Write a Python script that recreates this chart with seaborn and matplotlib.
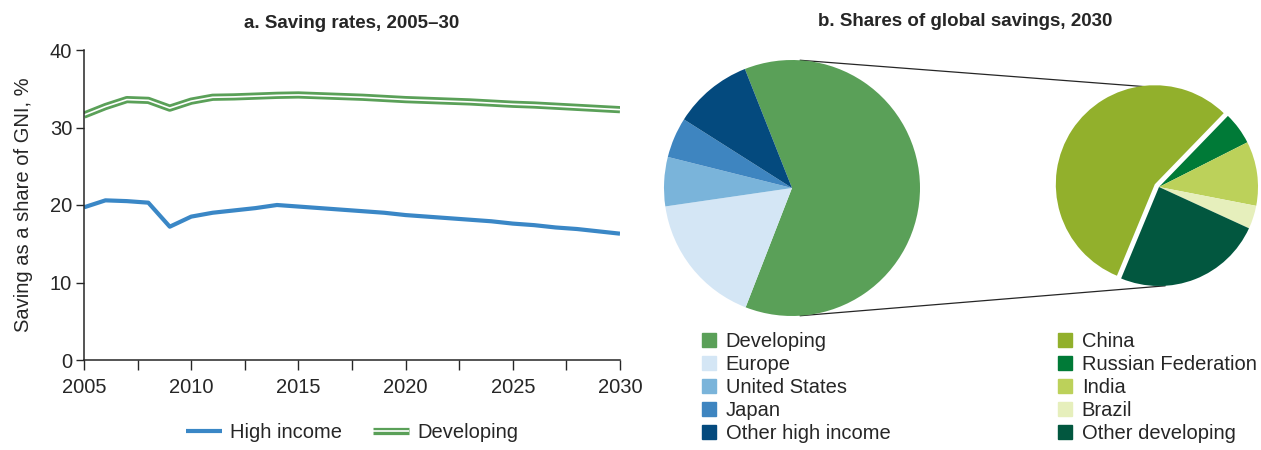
import numpy as np
import pandas as pd
import seaborn as sns
import matplotlib.pyplot as plt
import matplotlib.patheffects as pe
from matplotlib.patches import Patch

# panel a: saving rates, % of GNI
years = list(range(2005, 2031))
high_income = [19.7, 20.6, 20.5, 20.3, 17.2, 18.5, 19.0, 19.3, 19.6, 20.0, 19.8, 19.6, 19.4,
               19.2, 19.0, 18.7, 18.5, 18.3, 18.1, 17.9, 17.6, 17.4, 17.1, 16.9, 16.6, 16.3]
developing = [31.6, 32.7, 33.6, 33.5, 32.5, 33.4, 33.9, 33.95, 34.05, 34.15, 34.2, 34.1, 34.0,
              33.9, 33.75, 33.6, 33.5, 33.4, 33.3, 33.15, 33.0, 32.9, 32.75, 32.6, 32.45, 32.3]

# panel b: shares of global savings, 2030
world_labels = ['Developing', 'Europe', 'United States', 'Japan', 'Other high income']
world_shares = [61.9, 16.8, 6.2, 5.1, 10.0]
world_colors = ['#5aa058', '#d4e6f5', '#7ab4da', '#3e85c0', '#044a7e']

dev_labels = ['China', 'Russian Federation', 'India', 'Brazil', 'Other developing']
dev_shares = [56.0, 5.3, 10.5, 3.8, 24.4]
dev_colors = ['#92b02c', '#007a37', '#bcd15a', '#e6efbc', '#02573f']

BLUE = '#3a87c6'
GREEN = '#5aa058'
INK = '#262626'

sns.set_theme(style='ticks')
plt.rcParams['font.family'] = ['Liberation Sans', 'DejaVu Sans']
plt.rcParams['font.size'] = 14

W, H = 1261, 450
fig = plt.figure(figsize=(W / 100, H / 100), dpi=100)

# ---- line chart
ax = fig.add_axes([84 / W, 90 / H, 536 / W, 310 / H])
df = pd.DataFrame({'year': years, 'High income': high_income, 'Developing': developing})
sns.lineplot(data=df, x='year', y='High income', color=BLUE, lw=3, ax=ax,
             label='High income', solid_capstyle='butt', solid_joinstyle='round')
sns.lineplot(data=df, x='year', y='Developing', color='white', lw=1.2, ax=ax,
             label='Developing', solid_capstyle='butt', solid_joinstyle='round')
ax.lines[-1].set_path_effects([pe.Stroke(linewidth=5.2, foreground=GREEN), pe.Normal()])

ax.set_xlim(2005, 2030)
ax.set_ylim(0, 40)
ax.set_yticks([0, 10, 20, 30, 40])
xt = np.arange(2005, 2030.1, 2.5)
ax.set_xticks(xt)
ax.set_xticklabels([str(int(t)) if t % 5 == 0 else '' for t in xt])
ax.set_xlabel('')
ax.set_ylabel('Saving as a share of GNI, %', fontsize=14.5, color=INK, labelpad=12)
ax.tick_params(axis='x', length=7, width=1, color=INK, labelcolor=INK, labelsize=14.5, pad=6)
ax.tick_params(axis='y', length=5.5, width=1, color=INK, labelcolor=INK, labelsize=14.5, pad=3)
for s in ['top', 'right']:
    ax.spines[s].set_visible(False)
for s in ['left', 'bottom']:
    ax.spines[s].set_color(INK)
    ax.spines[s].set_linewidth(1.1)
ax.set_title('a. Saving rates, 2005–30', fontsize=13.5, fontweight='bold', color=INK, pad=16)
ax.legend(loc='center', bbox_to_anchor=(0.5, -0.235), ncol=2, frameon=False, fontsize=14.5,
          handlelength=1.8, handletextpad=0.4, columnspacing=1.5, borderpad=0)

# ---- pies (axes in units of 100 px)
ax2 = fig.add_axes([640 / W, 0, 621 / W, 1])
c1, r1 = (7.92, 2.62), 1.28
c2, r2 = (11.59, 2.63), 0.99
ax2.pie(world_shares, colors=world_colors, startangle=111.6, counterclock=False,
        center=c1, radius=r1, wedgeprops=dict(linewidth=0))
ax2.pie(dev_shares, colors=dev_colors, startangle=247.5, counterclock=False,
        center=c2, radius=r2, explode=[0.05, 0, 0, 0, 0], wedgeprops=dict(linewidth=0))
for a in (86.4, -86.4):
    t = np.deg2rad(a)
    ax2.plot([c1[0] + r1 * np.cos(t), c2[0] + r2 * np.cos(t)],
             [c1[1] + r1 * np.sin(t), c2[1] + r2 * np.sin(t)],
             color=INK, lw=0.9, zorder=0)
ax2.set_aspect('auto')
ax2.set_xlim(6.40, 12.61)
ax2.set_ylim(0, 4.50)
ax2.axis('off')

fig.text(965 / W, 1 - 21 / H, 'b. Shares of global savings, 2030', ha='center', va='center',
         fontsize=13.5, fontweight='bold', color=INK)

leg_kw = dict(loc='upper left', frameon=False, fontsize=14.5, handlelength=0.68, handleheight=0.68,
              handletextpad=0.5, labelspacing=0.2, borderpad=0, borderaxespad=0,
              labelcolor=INK)
fig.legend([Patch(color=c) for c in world_colors], world_labels,
           bbox_to_anchor=(702 / W, 1 - 332 / H), **leg_kw)
fig.legend([Patch(color=c) for c in dev_colors], dev_labels,
           bbox_to_anchor=(1058 / W, 1 - 332 / H), **leg_kw)

fig.savefig('out.png', dpi=100)
